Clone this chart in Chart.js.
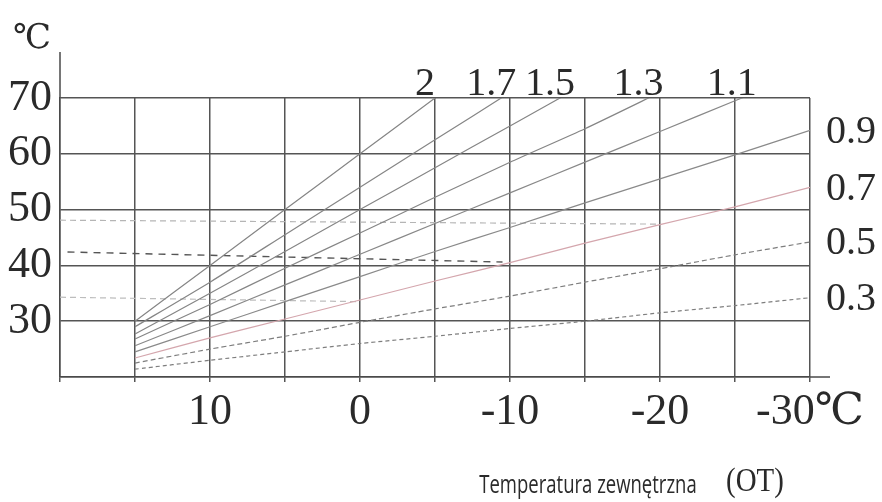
<!DOCTYPE html>
<html>
<head>
<meta charset="utf-8">
<script src="https://cdn.jsdelivr.net/npm/chart.js@4"></script>
<style>
  body { margin: 0; background: #fff; }
  canvas { display: block; }
</style>
</head>
<body>
<canvas id="chart" width="882" height="502"></canvas>
<script>
// heating curves: flow temperature vs outdoor temperature (OT)
const outdoorTemps = [15, 10, 5, 0, -5, -10, -15, -20, -25, -30];
const curveNames = ["2", "1.7", "1.5", "1.3", "1.1", "0.9", "0.7", "0.5", "0.3"];
const curve20 = [30, 40, 50, 60, 70];
const curve17 = [29, 37, 45.5, 54, 62.5, 71];
const curve15 = [27.7, 35, 42.5, 50, 57.5, 65, 72.5];
const curve13 = [26.8, 33, 39.5, 45.8, 52.2, 58.5, 64.5, 71];
const curve11 = [25.6, 31, 36.5, 42, 47.5, 53, 58.5, 64, 69.5, 75];
const curve09 = [24.5, 29, 33.5, 38, 42.5, 46.8, 51.2, 55.5, 59.8, 64.2];
const curve07 = [23.4, 27, 30.4, 33.8, 37.2, 40.5, 44, 47.3, 50.5, 54];
const curve05 = [22.5, 25, 27.3, 29.8, 32.2, 34.5, 37, 39.4, 41.9, 44.2];
const curve03 = [21.4, 23, 24.5, 26, 27.3, 28.7, 30, 31.5, 32.8, 34.2];
const curves = [curve20, curve17, curve15, curve13, curve11, curve09, curve07, curve05, curve03];

// faint dashed guide lines in the scan
const guideA_ot = [20, -20], guideA = [48.1, 47.4];
const guideB_ot = [19.5, -9.5], guideB = [42.4, 40.6];
const guideC_ot = [20, 0], guideC = [34.3, 33.5];

const xTickLabels = { 10: "10", 0: "0", "-10": "-10", "-20": "-20", "-30": "-30\u2103" };
const yTickLabels = [30, 40, 50, 60, 70];

const SERIF = "'Liberation Serif', 'DejaVu Serif', serif";

function pts(xs, ys) {
  return ys.map((y, i) => ({ x: xs[i], y: y }));
}

const curveColors = ["#858585", "#858585", "#858585", "#858585", "#888888", "#8a8a8a", "#d4a6ad", "#7e7e7e", "#7e7e7e"];
const curveDash = [[], [], [], [], [], [], [], [5, 3], [4, 3]];

const datasets = curves.map((c, i) => ({
  label: curveNames[i],
  data: pts(outdoorTemps, c),
  borderColor: curveColors[i],
  borderWidth: 1.2,
  borderDash: curveDash[i],
  pointRadius: 0,
  tension: 0.2,
}));

datasets.push(
  { label: "gA", data: pts(guideA_ot, guideA), borderColor: "#b5b5b5", borderWidth: 1.2, borderDash: [6, 4], pointRadius: 0 },
  { label: "gB", data: pts(guideB_ot, guideB), borderColor: "#555555", borderWidth: 1.4, borderDash: [7, 6], pointRadius: 0 },
  { label: "gC", data: pts(guideC_ot, guideC), borderColor: "#bdbdbd", borderWidth: 1.2, borderDash: [6, 4], pointRadius: 0 }
);

// crossing of a curve with the top of the scale (70), from its own data
function topCrossing(values, top) {
  for (let i = 1; i < values.length; i++) {
    if (values[i] >= top) {
      const t = (top - values[i - 1]) / (values[i] - values[i - 1]);
      return outdoorTemps[i - 1] + t * (outdoorTemps[i] - outdoorTemps[i - 1]);
    }
  }
  return null;
}

const extras = {
  id: "extras",
  afterDraw(chart) {
    const { ctx, chartArea: a, scales } = chart;
    const xs = scales.x, ys = scales.y;
    ctx.save();
    // axis extensions
    ctx.strokeStyle = "#4a4a4a";
    ctx.lineWidth = 1.5;
    ctx.beginPath();
    ctx.moveTo(a.left, a.top);
    ctx.lineTo(a.left, a.top - 46);
    ctx.moveTo(a.right, a.bottom);
    ctx.lineTo(a.right + 20, a.bottom);
    ctx.stroke();

    ctx.fillStyle = "#2a2a2a";
    ctx.textBaseline = "alphabetic";
    ctx.font = "34px " + SERIF;
    ctx.textAlign = "left";
    ctx.fillText("\u2103", 13, 48);

    // curve labels along the top
    ctx.textAlign = "center";
    ctx.font = "40px " + SERIF;
    curves.forEach((c, i) => {
      const ot = topCrossing(c, ys.max);
      if (ot !== null) {
        ctx.fillText(curveNames[i], xs.getPixelForValue(ot) - 10, a.top - 3);
      }
    });
    // curve labels on the right
    ctx.textAlign = "left";
    ctx.textBaseline = "middle";
    curves.forEach((c, i) => {
      if (topCrossing(c, ys.max) === null) {
        ctx.fillText(curveNames[i], a.right + 16, ys.getPixelForValue(c[c.length - 1]) + 2);
      }
    });

    // axis title (condensed look of the scan)
    ctx.textBaseline = "middle";
    ctx.textAlign = "center";
    ctx.save();
    ctx.translate(588, 486);
    ctx.scale(0.74, 1);
    ctx.font = "25px 'Open Sans', 'Noto Sans', sans-serif";
    ctx.fillText("Temperatura zewnętrzna", 0, 0);
    ctx.restore();
    ctx.save();
    ctx.translate(755, 482);
    ctx.scale(0.85, 1);
    ctx.font = "34px " + SERIF;
    ctx.fillText("(OT)", 0, 0);
    ctx.restore();
    ctx.restore();
  },
};

new Chart(document.getElementById("chart"), {
  type: "line",
  data: { datasets: datasets },
  options: {
    responsive: false,
    animation: false,
    devicePixelRatio: 1,
    layout: { padding: { left: 0, right: 72, top: 98, bottom: 0 } },
    plugins: { legend: { display: false }, tooltip: { enabled: false } },
    scales: {
      x: {
        type: "linear",
        reverse: true,
        min: -30,
        max: 20,
        afterFit: (s) => { s.height = 125; },
        border: { display: true, color: "#4a4a4a", width: 1.5 },
        grid: { color: "#555555", lineWidth: 1.5, drawTicks: true, tickLength: 5 },
        ticks: {
          stepSize: 5,
          autoSkip: false,
          maxRotation: 0,
          padding: 4,
          color: "#2a2a2a",
          font: { family: SERIF, size: 44 },
          callback: (v) => (xTickLabels[v] !== undefined ? xTickLabels[v] : ""),
        },
      },
      y: {
        min: 20,
        max: 70,
        afterFit: (s) => { s.width = 60; },
        border: { display: true, color: "#4a4a4a", width: 1.5 },
        grid: { color: "#555555", lineWidth: 1.5, drawTicks: false },
        ticks: {
          stepSize: 10,
          padding: 8,
          color: "#2a2a2a",
          font: { family: SERIF, size: 44 },
          callback: (v) => (yTickLabels.includes(v) ? String(v) : ""),
        },
      },
    },
  },
  plugins: [extras],
});
</script>
</body>
</html>
